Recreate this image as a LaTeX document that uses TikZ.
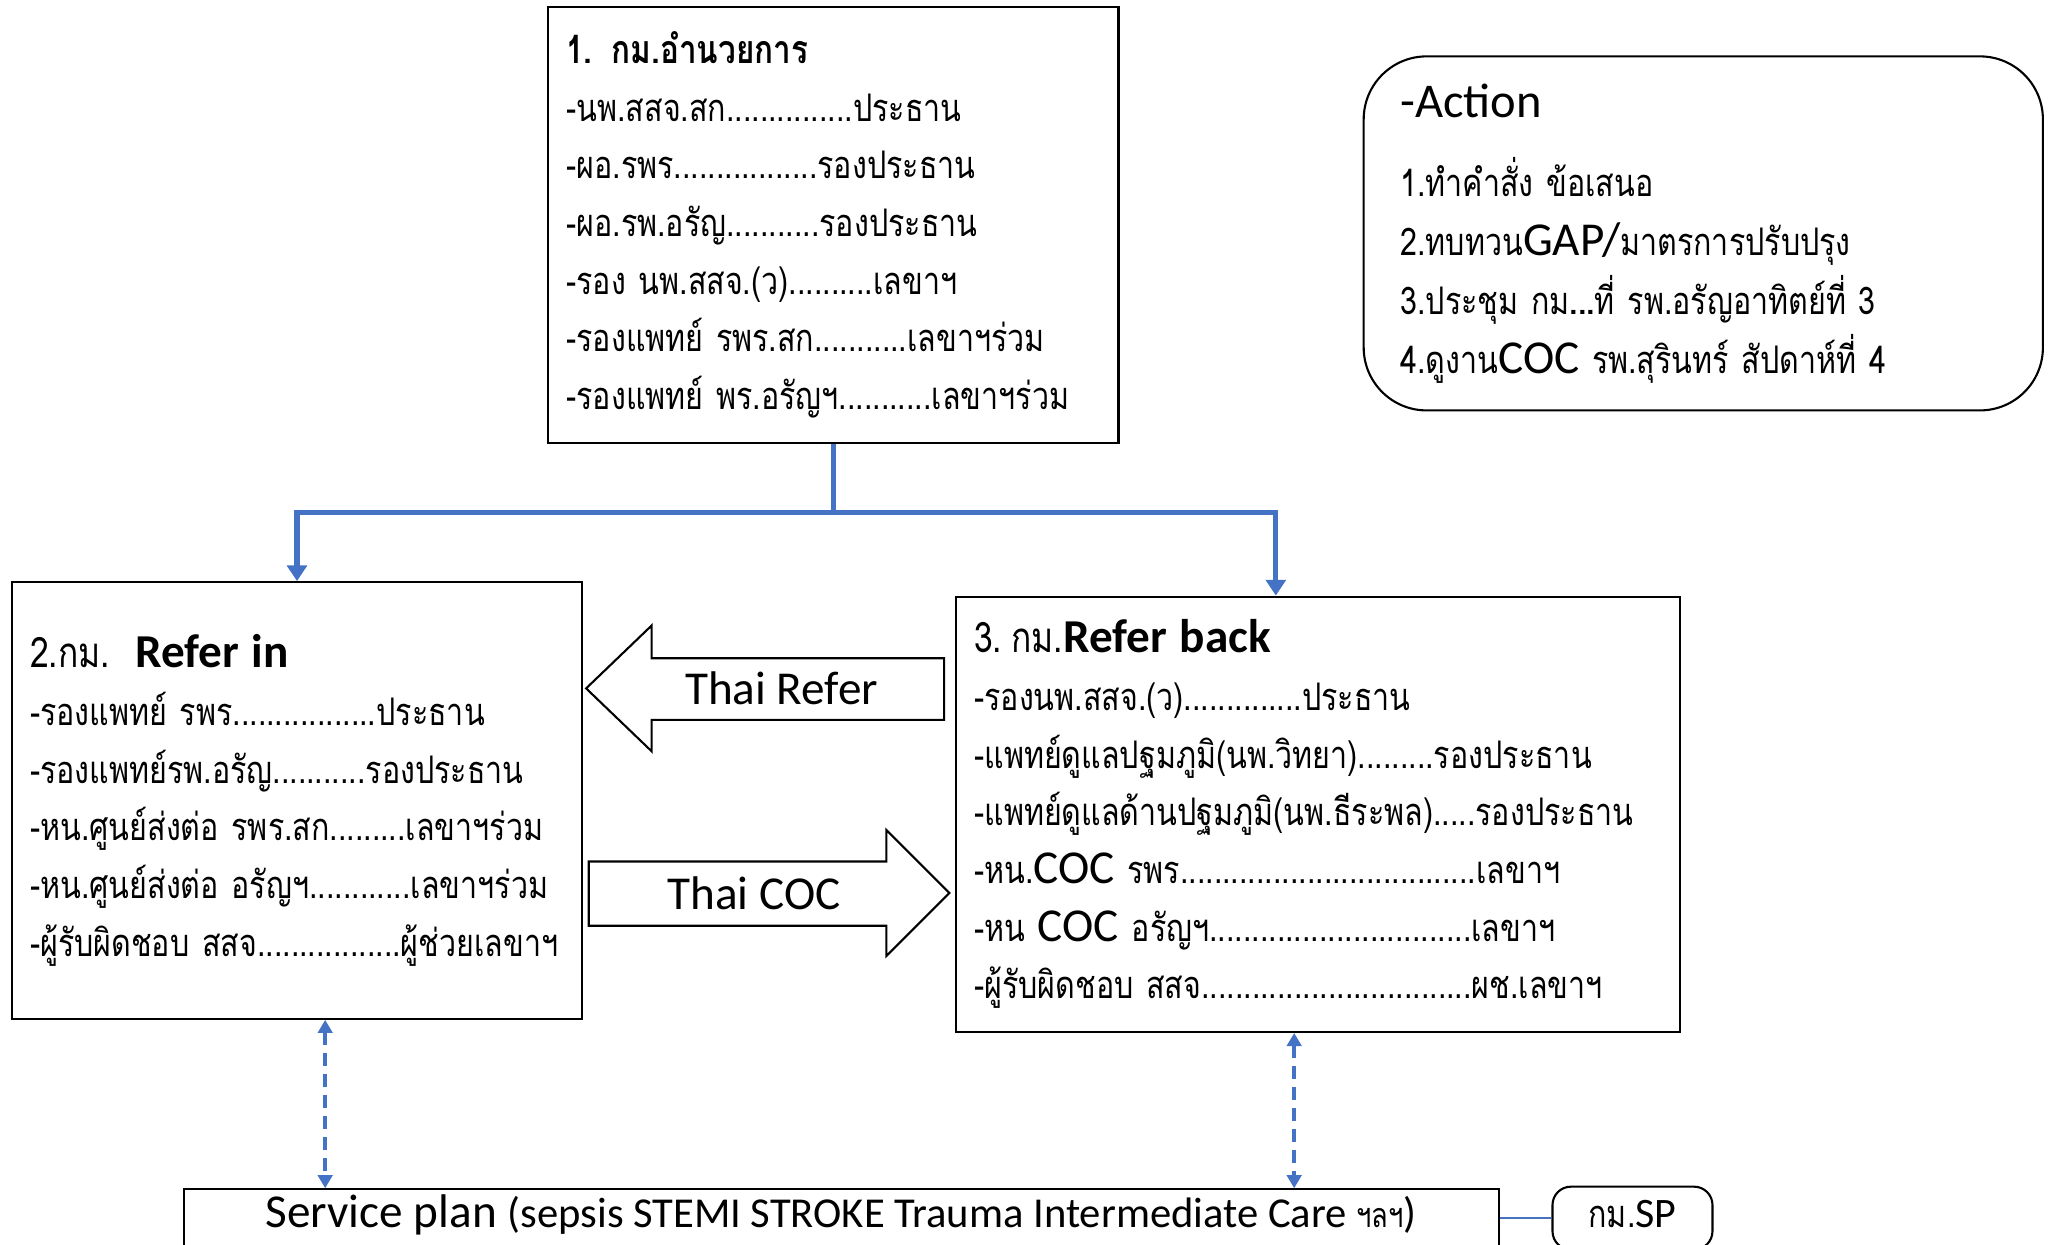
\documentclass[tikz,border=0pt]{standalone}
\usepackage{fontspec}
\setmainfont[Script=Thai, FakeStretch=0.8]{Loma}
\newfontfamily\lat{Carlito}
\usepackage{tikz}
\usetikzlibrary{arrows.meta}
\usetikzlibrary{calc}
\definecolor{linkblue}{RGB}{68,114,196}
\newcommand\thaibody{\fontsize{29}{44}\selectfont}
\newcommand\engbig[1]{{\lat\fontsize{36}{44}\selectfont #1}}
\newcommand\thaihead[1]{{\fontsize{32}{44}\selectfont #1}}

\tikzset{
  board/.style={draw, line width=1.6pt, rectangle, align=left, inner xsep=14pt, font=\thaibody},
  tree/.style={linkblue, line width=4pt, -{Triangle[width=15pt,length=12pt]}},
  dashlink/.style={linkblue, line width=3pt, dash pattern=on 10pt off 6pt, {Triangle[width=11pt,length=10pt]}-{Triangle[width=11pt,length=10pt]}},
  blockarrow/.style={draw, line width=1.6pt, line join=miter}
}

\begin{document}
\begin{tikzpicture}[x=1pt,y=-1pt]
\useasboundingbox (0,0) rectangle (1568,949);
\clip (0,0) rectangle (1568,949);

% committees
\node[board, minimum width=435pt, minimum height=333pt, text width=407pt] (dir) at (635.5,171.5) {%
{\bfseries\fontsize{30}{44}\selectfont 1. กม.อำนวยการ}\\
-นพ.สสจ.สก...............ประธาน\\
-ผอ.รพร.................รองประธาน\\
-ผอ.รพ.อรัญ...........รองประธาน\\
-รอง นพ.สสจ.(ว)..........เลขาฯ\\
-รองแพทย์ รพร.สก...........เลขาฯร่วม\\
-รองแพทย์ พร.อรัญฯ...........เลขาฯร่วม};

\node[board, rounded corners=48pt, inner xsep=28pt, minimum width=518pt, minimum height=270pt, text width=462pt, font=\fontsize{29}{45}\selectfont] (act) at (1299,178) {%
{\lat\fontsize{37}{44}\selectfont -Action}\\[15pt]
1.ทำคำสั่ง ข้อเสนอ\\
2.ทบทวน\engbig{GAP/}มาตรการปรับปรุง\\
3.ประชุม กม{\bfseries ...}ที่ รพ.อรัญอาทิตย์ที่ 3\\
4.ดูงาน\engbig{COC} รพ.สุรินทร์ สัปดาห์ที่ 4};

\node[board, minimum width=435pt, minimum height=333pt, text width=407pt] (ref) at (226.5,610.5) {%
\thaihead{2.กม.}\ \ \engbig{\bfseries Refer in}\\
-รองแพทย์ รพร.................ประธาน\\
-รองแพทย์รพ.อรัญ...........รองประธาน\\
-หน.ศูนย์ส่งต่อ รพร.สก.........เลขาฯร่วม\\
-หน.ศูนย์ส่งต่อ อรัญฯ............เลขาฯร่วม\\
-ผู้รับผิดชอบ สสจ.................ผู้ช่วยเลขาฯ};

\node[board, minimum width=552pt, minimum height=332pt, text width=524pt] (back) at (1005,621) {%
\thaihead{3.\hspace{7pt}กม.}\engbig{\bfseries Refer back}\\
-รองนพ.สสจ.(ว)..............ประธาน\\
-แพทย์ดูแลปฐมภูมิ(นพ.วิทยา).........รองประธาน\\
-แพทย์ดูแลด้านปฐมภูมิ(นพ.ธีระพล).....รองประธาน\\
-หน.\engbig{COC} รพร...................................เลขาฯ\\
-หน \engbig{COC} อรัญฯ...............................เลขาฯ\\
-ผู้รับผิดชอบ สสจ................................ผช.เลขาฯ};

\node[draw, line width=1.6pt, minimum width=1003pt, minimum height=44pt, inner ysep=2pt, text height=24pt, text depth=10pt] (svc) at (641.5,929) {%
\engbig{Service plan {\fontsize{32.5}{36}\selectfont (sepsis STEMI STROKE Trauma Intermediate Care {\rmfamily\fontsize{26}{30}\selectfont ฯลฯ})}}};
\node[draw, line width=1.6pt, rounded corners=14pt, minimum width=122pt, minimum height=48pt, inner ysep=2pt, text height=24pt, text depth=10pt, font=\thaibody] (sp) at (1245,929) {กม.{\lat\fontsize{32}{40}\selectfont SP}};

% block arrows
\draw[blockarrow] (720,502) -- (497,502) -- (497,477) -- (447,525) -- (497,573) -- (497,549) -- (720,549) -- cycle;
\node[font=\lat\fontsize{36}{44}\selectfont] (thairefer) at (596,525) {Thai Refer};
\draw[blockarrow] (449,657) -- (676,657) -- (676,633) -- (724,681) -- (676,729) -- (676,706) -- (449,706) -- cycle;
\node[font=\lat\fontsize{36}{44}\selectfont] (thaicoc) at (575,681) {Thai COC};

% links
\draw[tree] (dir.south) -- ++(0,52) -| (ref.north);
\draw[tree] (dir.south) -- ++(0,52) -| ([xshift=-32pt]back.north);
\draw[dashlink] ([xshift=21.5pt]ref.south) -- ([xshift=21.5pt]ref.south |- svc.north);
\draw[dashlink] ([xshift=-18pt]back.south) -- ([xshift=-18pt]back.south |- svc.north);
\draw[linkblue, line width=1pt] (svc.east) -- (sp.west);
\end{tikzpicture}
\end{document}
